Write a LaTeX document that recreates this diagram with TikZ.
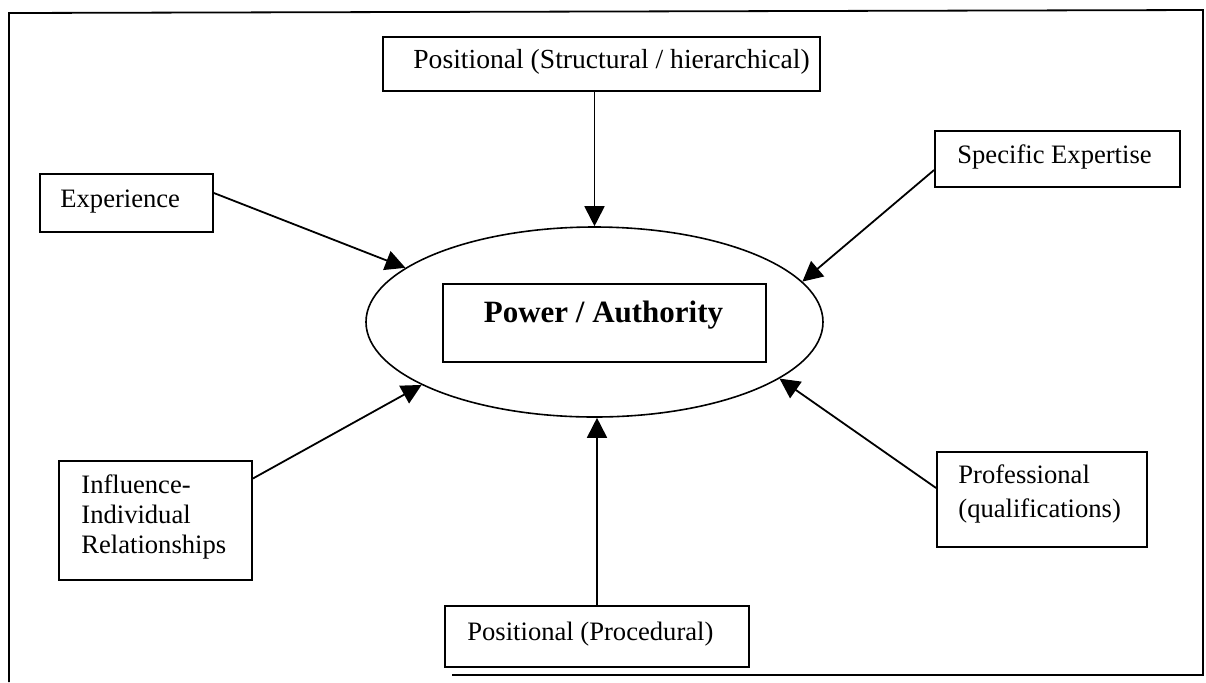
\documentclass[tikz,border=0pt]{standalone}
\usepackage{fontspec}
\setmainfont{Liberation Serif}
\usetikzlibrary{arrows.meta,shapes.geometric}
\begin{document}
\begin{tikzpicture}[x=0.5pt,y=-0.5pt,
  box/.style={draw,line width=0.9pt,inner sep=0pt},
  lbl/.style={font=\fontsize{13.3}{15}\selectfont,inner sep=0pt,align=left},
  feed/.style={line width=0.9pt,-{Triangle[length=10pt,width=10pt]}}]
\useasboundingbox (0,0) rectangle (1206,682);

% outer frame
\draw[line width=0.9pt] (9,682) -- (9,13) -- (1203,10) -- (1203,675) -- (452,675);

% central ellipse and its inner box
\node[draw,line width=0.8pt,ellipse,inner sep=0pt,minimum width=228.5pt,minimum height=95pt] (pa) at (594.5,322) {};
\node[box,minimum width=161.5pt,minimum height=39pt] (core) at (604.5,323) {};
\node[inner sep=0pt,font=\fontsize{15.5}{18}\selectfont\bfseries,anchor=base] (coret) at (603.5,322) {Power / Authority};

% source boxes
\node[box,minimum width=218.5pt,minimum height=27pt] (pos) at (601.5,64) {};
\node[lbl,font=\fontsize{13.8}{16}\selectfont,anchor=base west] (post) at (413,68) {Positional (Structural / hierarchical)};

\node[box,minimum width=86.5pt,minimum height=29pt] (exp) at (126.5,203) {};
\node[lbl,anchor=base west] (expt) at (60,207) {Experience};

\node[box,minimum width=122.5pt,minimum height=28pt] (spec) at (1057.5,159) {};
\node[lbl,anchor=base west] (spect) at (957,163) {Specific Expertise};

% multi-line labels: the base anchor sits on the last line
\node[box,minimum width=96.5pt,minimum height=59.5pt] (infl) at (155.5,520.5) {};
\node[lbl,font=\fontsize{13.3}{15}\selectfont,anchor=base west] (inflt) at (81,553) {Influence-\\Individual\\Relationships};

\node[box,minimum width=105pt,minimum height=47.5pt] (prof) at (1042,499.5) {};
\node[lbl,font=\fontsize{13.3}{17}\selectfont,anchor=base west] (proft) at (958,517) {Professional\\(qualifications)};

\node[box,minimum width=152pt,minimum height=30.5pt] (proc) at (597,636.5) {};
\node[lbl,anchor=base west] (proct) at (467,640) {Positional (Procedural)};

% influences on power
\draw[feed] ([xshift=-3.5pt]pos.south) -- (pa.north);
\draw[feed] ([yshift=5pt]exp.east) -- (pa.164);
\draw[feed] ([yshift=-5.5pt]spec.west) -- (pa.11);
\draw[feed] ([yshift=21pt]infl.east) -- (pa.-160.5);
\draw[feed] ([yshift=5.75pt]prof.west) -- (pa.-17);
\draw[feed] (proc.north) -- (proc.north |- pa.south);
\end{tikzpicture}
\end{document}
